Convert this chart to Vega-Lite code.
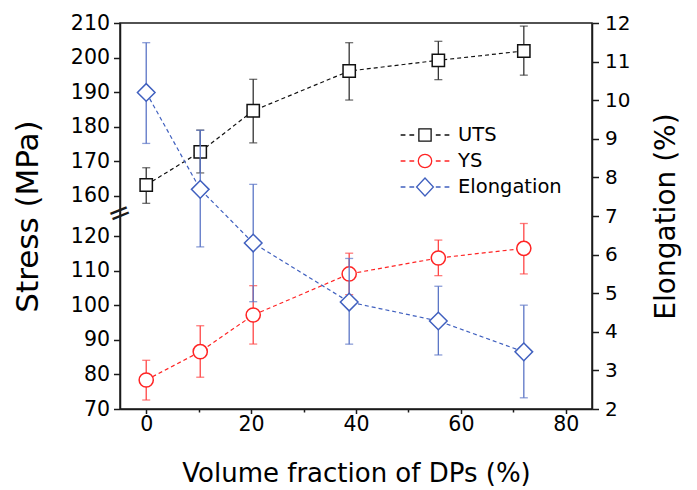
{
  "$schema": "https://vega.github.io/schema/vega-lite/v6.json",
  "width": 472,
  "height": 386,
  "autosize": {"type": "none"},
  "padding": {"left": 120, "top": 23, "right": 105, "bottom": 81},
  "background": "white",
  "config": {
    "font": "DejaVu Sans",
    "view": {"stroke": "#1a1a1a", "strokeWidth": 1.5},
    "axis": {"grid": false, "labelOverlap": false, "labelBound": false, "domainColor": "#1a1a1a", "tickColor": "#1a1a1a", "domainWidth": 1.5, "tickWidth": 1.5, "labelColor": "black", "titleColor": "black", "titleFontWeight": "normal", "labelFont": "DejaVu Sans", "titleFont": "DejaVu Sans"}
  },
  "datasets": {
    "main": [
      {"series": "UTS", "x": 0, "value": 163.1, "lo": 157.8, "hi": 168.1},
      {"series": "UTS", "x": 10.3, "value": 172.7, "lo": 166.6, "hi": 179.0},
      {"series": "UTS", "x": 20.4, "value": 184.6, "lo": 175.3, "hi": 193.7},
      {"series": "UTS", "x": 38.7, "value": 196.1, "lo": 187.7, "hi": 204.3},
      {"series": "UTS", "x": 55.7, "value": 199.2, "lo": 193.6, "hi": 204.7},
      {"series": "UTS", "x": 72.0, "value": 201.9, "lo": 194.9, "hi": 209.1},
      {"series": "YS", "x": 0, "value": 78.4, "lo": 72.6, "hi": 84.1},
      {"series": "YS", "x": 10.3, "value": 86.6, "lo": 79.2, "hi": 94.1},
      {"series": "YS", "x": 20.4, "value": 97.2, "lo": 88.8, "hi": 105.7},
      {"series": "YS", "x": 38.7, "value": 109.1, "lo": 103.1, "hi": 115.1},
      {"series": "YS", "x": 55.7, "value": 113.7, "lo": 108.6, "hi": 118.9},
      {"series": "YS", "x": 72.0, "value": 116.5, "lo": 109.1, "hi": 123.7},
      {"series": "Elongation", "x": 0, "value": 10.2, "lo": 8.88, "hi": 11.49},
      {"series": "Elongation", "x": 10.3, "value": 7.69, "lo": 6.2, "hi": 9.22},
      {"series": "Elongation", "x": 20.4, "value": 6.3, "lo": 4.78, "hi": 7.82},
      {"series": "Elongation", "x": 38.7, "value": 4.77, "lo": 3.68, "hi": 5.9},
      {"series": "Elongation", "x": 55.7, "value": 4.28, "lo": 3.4, "hi": 5.18},
      {"series": "Elongation", "x": 72.0, "value": 3.48, "lo": 2.29, "hi": 4.69}
    ],
    "brk": [
      {"x": -5, "value": 150, "label": "="}
    ]
  },
  "layer": [
    {
      "layer": [
        {
          "data": {"name": "main"},
          "transform": [{"filter": "datum.series === 'UTS'"}],
          "mark": {"type": "errorbar", "color": "#333333", "ticks": {"size": 8, "thickness": 1.3}, "rule": {"strokeWidth": 1.3}},
          "encoding": {
            "x": {"field": "x", "type": "quantitative", "scale": {"domain": [-5, 85], "nice": false, "zero": false},
              "axis": {"title": "Volume fraction of DPs (%)", "values": [0, 10, 20, 30, 40, 50, 60, 70, 80], "tickCount": 40, "format": "d", "labelOverlap": false, "labelExpr": "datum.value % 20 === 0 ? datum.label : ''", "tickSize": {"condition": {"test": "datum.value % 20 === 0", "value": 4.5}, "value": 3}, "labelFontSize": 20.5, "titleFontSize": 26, "labelPadding": 1, "titlePadding": 25}},
            "y": {"field": "lo", "type": "quantitative", "scale": {"domain": [70, 125, 155, 210], "range": [386, 196, 190, 0], "nice": false, "zero": false},
              "axis": {"title": "Stress (MPa)", "values": [70, 80, 90, 100, 110, 120, 160, 170, 180, 190, 200, 210], "tickCount": 40, "format": "d", "labelOverlap": false, "labelFontSize": 20.5, "titleFontSize": 31, "tickSize": 6.5, "labelPadding": 4, "titlePadding": 26}},
            "y2": {"field": "hi"}
          }
        },
        {
          "data": {"name": "main"},
          "transform": [{"filter": "datum.series === 'YS'"}],
          "mark": {"type": "errorbar", "color": "#ff4545", "ticks": {"size": 8, "thickness": 1.3}, "rule": {"strokeWidth": 1.3}},
          "encoding": {
            "x": {"field": "x", "type": "quantitative"},
            "y": {"field": "lo", "type": "quantitative", "title": "Stress (MPa)"},
            "y2": {"field": "hi"}
          }
        },
        {
          "data": {"name": "main"},
          "transform": [{"filter": "datum.series === 'UTS'"}],
          "mark": {"type": "line", "strokeDash": [4, 3], "strokeWidth": 1.2, "color": "#111111"},
          "encoding": {
            "x": {"field": "x", "type": "quantitative"},
            "y": {"field": "value", "type": "quantitative", "title": "Stress (MPa)"}
          }
        },
        {
          "data": {"name": "main"},
          "transform": [{"filter": "datum.series === 'YS'"}],
          "mark": {"type": "line", "strokeDash": [4, 3], "strokeWidth": 1.2, "color": "#ff2424"},
          "encoding": {
            "x": {"field": "x", "type": "quantitative"},
            "y": {"field": "value", "type": "quantitative", "title": "Stress (MPa)"}
          }
        },
        {
          "data": {"name": "main"},
          "transform": [{"filter": "datum.series === 'UTS'"}],
          "mark": {"type": "point", "shape": "square", "size": 151, "filled": true, "fill": "white", "stroke": "#111111", "strokeWidth": 1.5, "opacity": 1},
          "encoding": {
            "x": {"field": "x", "type": "quantitative"},
            "y": {"field": "value", "type": "quantitative", "title": "Stress (MPa)"}
          }
        },
        {
          "data": {"name": "main"},
          "transform": [{"filter": "datum.series === 'YS'"}],
          "mark": {"type": "point", "shape": "circle", "size": 200, "filled": true, "fill": "white", "stroke": "#ff2424", "strokeWidth": 1.5, "opacity": 1},
          "encoding": {
            "x": {"field": "x", "type": "quantitative"},
            "y": {"field": "value", "type": "quantitative", "title": "Stress (MPa)"}
          }
        },
        {
          "data": {"name": "main"},
          "transform": [{"filter": "datum.series !== 'Elongation'"}],
          "mark": {"type": "point", "filled": true, "fill": "white", "strokeWidth": 1.3, "opacity": 0},
          "encoding": {
            "x": {"field": "x", "type": "quantitative"},
            "y": {"field": "value", "type": "quantitative", "title": "Stress (MPa)"},
            "stroke": {"field": "series", "type": "nominal", "scale": {"domain": ["UTS", "YS", "Elongation"], "range": ["#111111", "#ff2424", "#4060bf"]},
              "legend": {
                "orient": "none", "legendX": 292, "legendY": 99, "title": null, "padding": 0,
                "labelFontSize": 19.5, "labelFont": "DejaVu Sans", "labelColor": "black",
                "symbolSize": 576, "symbolStrokeWidth": 1.3, "symbolFillColor": "white", "labelOffset": 20, "rowPadding": 3
              }},
            "shape": {"field": "series", "type": "nominal", "scale": {"domain": ["UTS", "YS", "Elongation"], "range": [
              "M-2.03,0H-1.63M-1.3,0H-0.9M-0.51,-0.51H0.51V0.51H-0.51ZM0.9,0H1.3M1.63,0H2.03",
              "M-2.03,0H-1.63M-1.3,0H-0.9M-0.56,0A0.56,0.56 0 1,0 0.56,0A0.56,0.56 0 1,0 -0.56,0ZM0.9,0H1.3M1.63,0H2.03",
              "M-2.03,0H-1.63M-1.3,0H-0.9M-0.7,0L0,-0.75L0.7,0L0,0.75ZM0.9,0H1.3M1.63,0H2.03"
            ]}}
          }
        },
        {
          "data": {"name": "brk"},
          "mark": {"type": "text", "fontSize": 28, "angle": -22, "baseline": "middle", "align": "center", "color": "#1a1a1a", "font": "DejaVu Sans"},
          "encoding": {
            "x": {"field": "x", "type": "quantitative"},
            "y": {"field": "value", "type": "quantitative", "title": "Stress (MPa)"},
            "text": {"field": "label"}
          }
        }
      ]
    },
    {
      "layer": [
        {
          "data": {"name": "main"},
          "transform": [{"filter": "datum.series === 'Elongation'"}],
          "mark": {"type": "errorbar", "color": "#5b75c6", "ticks": {"size": 8, "thickness": 1.3}, "rule": {"strokeWidth": 1.3}},
          "encoding": {
            "x": {"field": "x", "type": "quantitative"},
            "y": {"field": "lo", "type": "quantitative", "scale": {"domain": [2, 12], "nice": false, "zero": false},
              "axis": {"orient": "right", "title": "Elongation (%)", "values": [2, 3, 4, 5, 6, 7, 8, 9, 10, 11, 12], "tickCount": 40, "format": "d", "labelOverlap": false, "labelFontSize": 20, "titleFontSize": 28, "tickSize": 6.5, "labelPadding": 6, "titlePadding": 23, "titleAngle": 270, "titleBaseline": "top"}},
            "y2": {"field": "hi"}
          }
        },
        {
          "data": {"name": "main"},
          "transform": [{"filter": "datum.series === 'Elongation'"}],
          "mark": {"type": "line", "strokeDash": [4, 3], "strokeWidth": 1.2, "color": "#4060bf"},
          "encoding": {
            "x": {"field": "x", "type": "quantitative"},
            "y": {"field": "value", "type": "quantitative", "title": "Elongation (%)"}
          }
        },
        {
          "data": {"name": "main"},
          "transform": [{"filter": "datum.series === 'Elongation'"}],
          "mark": {"type": "point", "shape": "diamond", "size": 310, "filled": true, "fill": "white", "stroke": "#4060bf", "strokeWidth": 1.5, "opacity": 1},
          "encoding": {
            "x": {"field": "x", "type": "quantitative"},
            "y": {"field": "value", "type": "quantitative", "title": "Elongation (%)"}
          }
        }
      ]
    }
  ],
  "resolve": {"scale": {"y": "independent"}}
}
